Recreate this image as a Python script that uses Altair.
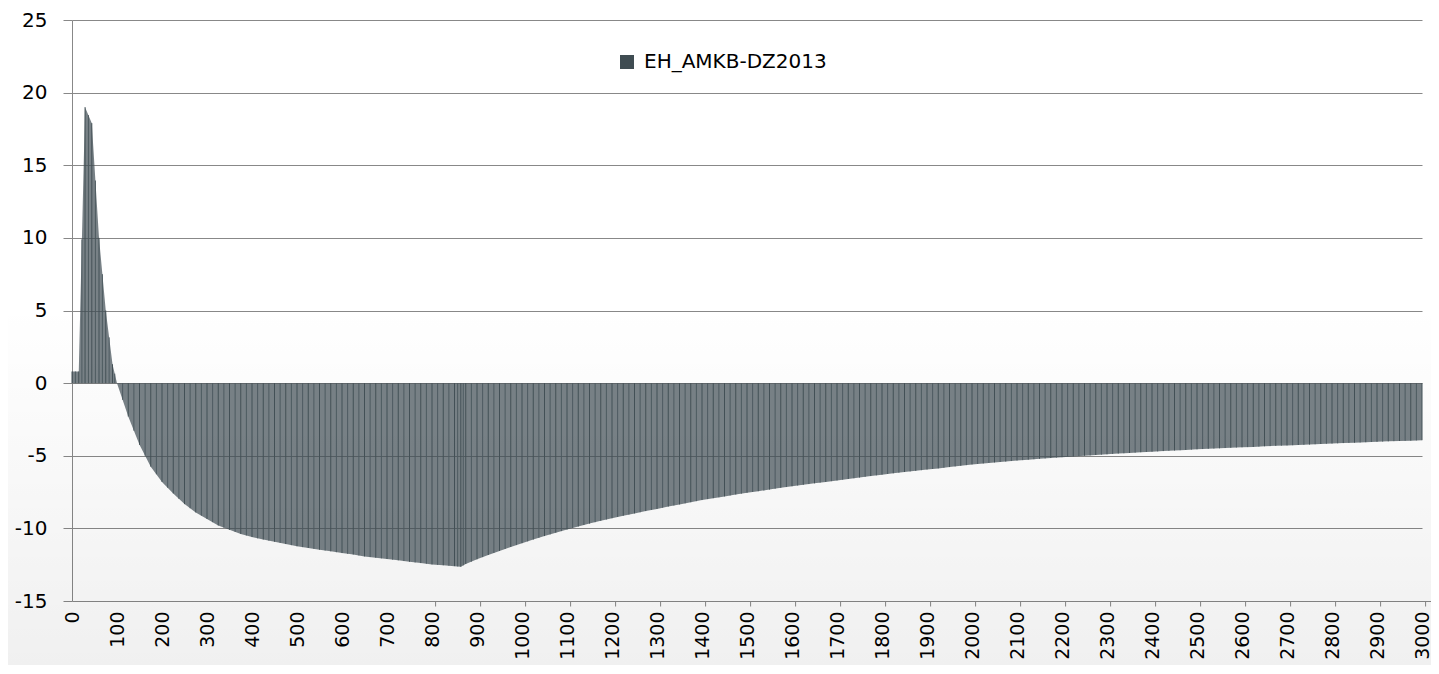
import altair as alt
import pandas as pd

series_name = "EH_AMKB-DZ2013"

t_vals = [0, 15, 29, 44, 60, 75, 90, 100, 125, 150, 175, 200, 225, 250, 275, 300,
          325, 350, 375, 400, 425, 450, 475, 500, 525, 550, 575, 600, 625, 650, 675,
          700, 725, 750, 775, 800, 825, 850, 864, 875, 900, 925, 950, 975, 1000,
          1025, 1050, 1075, 1100, 1125, 1150, 1175, 1200, 1225, 1250, 1275, 1300,
          1325, 1350, 1375, 1400, 1425, 1450, 1475, 1500, 1525, 1550, 1575, 1600,
          1625, 1650, 1675, 1700, 1725, 1750, 1775, 1800, 1825, 1850, 1875, 1900,
          1925, 1950, 1975, 2000, 2025, 2050, 2075, 2100, 2125, 2150, 2175, 2200,
          2225, 2250, 2275, 2300, 2325, 2350, 2375, 2400, 2425, 2450, 2475, 2500,
          2525, 2550, 2575, 2600, 2625, 2650, 2675, 2700, 2725, 2750, 2775, 2800,
          2825, 2850, 2875, 2900, 2925, 2950, 2975, 3000]

v_vals = [0.8, 0.8, 19.0, 17.9, 10.0, 5.0, 1.3, 0.0, -2.3, -4.25, -5.75, -6.8, -7.6,
          -8.33, -8.9, -9.35, -9.8, -10.1, -10.38, -10.6, -10.77, -10.92, -11.08,
          -11.23, -11.35, -11.47, -11.58, -11.7, -11.8, -11.93, -12.02, -12.11,
          -12.2, -12.3, -12.39, -12.48, -12.54, -12.6, -12.64, -12.45, -12.13,
          -11.83, -11.55, -11.28, -11.02, -10.77, -10.53, -10.3, -10.08, -9.87,
          -9.67, -9.48, -9.3, -9.13, -8.97, -8.81, -8.66, -8.5, -8.35, -8.2, -8.05,
          -7.92, -7.8, -7.67, -7.55, -7.44, -7.33, -7.21, -7.1, -7.0, -6.9, -6.8,
          -6.7, -6.6, -6.5, -6.4, -6.3, -6.21, -6.12, -6.04, -5.95, -5.87, -5.78,
          -5.69, -5.6, -5.53, -5.46, -5.4, -5.33, -5.27, -5.21, -5.16, -5.1, -5.05,
          -5.0, -4.95, -4.9, -4.85, -4.81, -4.76, -4.72, -4.68, -4.64, -4.6, -4.56,
          -4.52, -4.49, -4.45, -4.42, -4.39, -4.35, -4.32, -4.29, -4.26, -4.23,
          -4.19, -4.16, -4.13, -4.1, -4.07, -4.04, -4.01, -3.98, -3.96, -3.93]

x_tick_values = list(range(0, 3001, 100))
y_tick_values = [-15, -10, -5, 0, 5, 10, 15, 20, 25]

df = pd.DataFrame({"t": t_vals, "v": v_vals, "series": series_name})

FONT = "DejaVu Sans"
W, H = 1350, 581
PAD_L, PAD_T, PAD_R, PAD_B = 64, 12, 9, 64
xscale = alt.Scale(domain=[0, 3000], nice=False, zero=False)
yscale = alt.Scale(domain=[-15, 25], nice=False)

yaxis = alt.Axis(values=y_tick_values, grid=True, gridColor="#888888", gridWidth=1,
                 domainColor="#888888", tickColor="#888888", tickSize=9,
                 labelFontSize=20, labelFont=FONT, labelColor="#000000",
                 labelPadding=16, title=None, labelExpr="'' + datum.value")

# subtle page shading (white at top, light grey towards the bottom)
shade = alt.Chart(pd.DataFrame({"k": [0]})).mark_rect(
    fill=alt.Gradient(gradient="linear", x1=0, y1=0, x2=0, y2=1,
                      stops=[alt.GradientStop(offset=0, color="rgba(0,0,0,0)"),
                             alt.GradientStop(offset=0.45, color="rgba(0,0,0,0)"),
                             alt.GradientStop(offset=1, color="rgba(0,0,0,0.06)")])
).encode(x=alt.value(-PAD_L), x2=alt.value(W + PAD_R), y=alt.value(-PAD_T),
         y2=alt.value(H + PAD_B))

area = alt.Chart(df).mark_area(opacity=0.7, interpolate="linear").encode(
    x=alt.X("t:Q", scale=xscale,
            axis=alt.Axis(values=x_tick_values, format="d", labelAngle=-90,
                          labelAlign="right", labelBaseline="middle",
                          labelFontSize=19, labelFont=FONT, labelColor="#000000",
                          labelPadding=10, domain=False, ticks=False, grid=False,
                          title=None, labelOverlap=False, labelFlush=False,
                          orient="bottom")),
    y=alt.Y("v:Q", scale=yscale, axis=yaxis),
    color=alt.Color("series:N", scale=alt.Scale(range=["#3f4c52"]),
                    legend=alt.Legend(orient="none", legendX=545, legendY=32,
                                      title=None, symbolType="square",
                                      symbolSize=196, symbolOpacity=1,
                                      symbolStrokeWidth=0, labelFontSize=20,
                                      labelFont=FONT, labelColor="#000000",
                                      labelOffset=7, padding=0, labelLimit=500)),
)

zero_axis = alt.Axis(values=x_tick_values, labels=False, grid=False,
                     domainColor="#888888", tickColor="#888888", tickSize=5,
                     position=363.1, title=None, orient="bottom")

rules = alt.Chart(df).mark_rule(color="#435056", strokeWidth=1).encode(
    x=alt.X("t:Q", scale=xscale, axis=zero_axis),
    y=alt.Y("v:Q", scale=yscale, axis=yaxis),
    y2=alt.datum(0),
)

# hatch lines half-way between neighbouring samples
mid_rules = alt.Chart(df).transform_window(
    window=[alt.WindowFieldDef(op="lead", field="t", **{"as": "nt"}),
            alt.WindowFieldDef(op="lead", field="v", **{"as": "nv"})],
    sort=[alt.SortField("t")],
).transform_filter("isValid(datum.nt)").transform_calculate(
    mt="(datum.t + datum.nt) / 2", mv="(datum.v + datum.nv) / 2"
).mark_rule(color="#4d5a60", strokeWidth=1).encode(
    x=alt.X("mt:Q", scale=xscale, axis=None),
    y=alt.Y("mv:Q", scale=yscale, axis=yaxis),
    y2=alt.datum(0),
)

chart = alt.layer(shade, area, mid_rules, rules).resolve_axis(x="independent").properties(
    width=W, height=H,
    autosize=alt.AutoSizeParams(type="none"),
    padding={"left": PAD_L, "top": PAD_T, "right": PAD_R, "bottom": PAD_B},
    background="#ffffff",
).configure_view(strokeWidth=0)

chart.save("out.html", embed_options={"renderer": "svg", "actions": False})
